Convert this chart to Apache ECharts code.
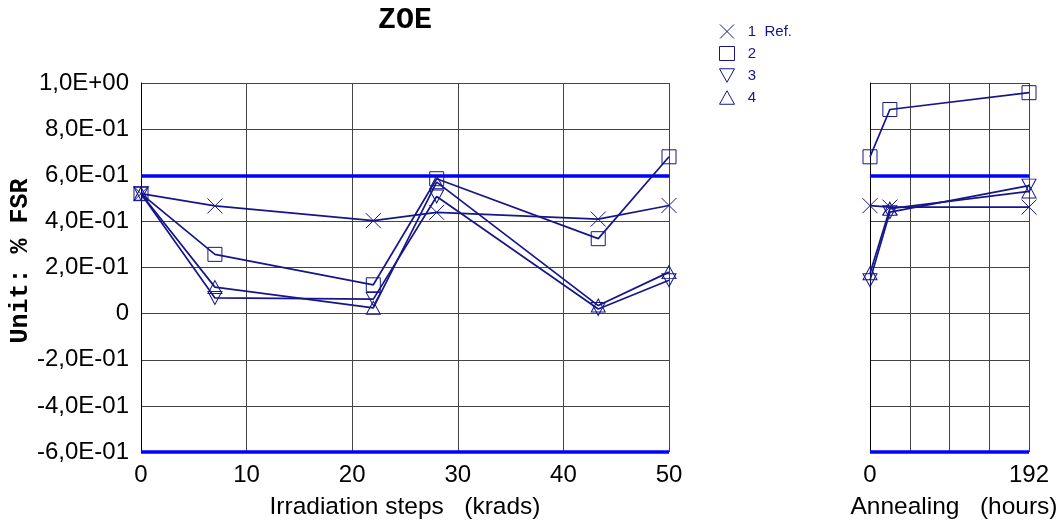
<!DOCTYPE html>
<html>
<head>
<meta charset="utf-8">
<script src="https://cdn.jsdelivr.net/npm/echarts@6/dist/echarts.min.js"></script>
<style>html,body{margin:0;padding:0;background:#fff;}#c{width:1061px;height:522px;}</style>
</head>
<body>
<div id="c"></div>
<script>
// ---- data ----
const irrX = [0, 7, 22, 28, 43.3, 50];          // krads
const annX = [0, 24, 192];                       // hours
const seriesNames = ['1  Ref.', '2', '3', '4'];
const irrY = [
  [0.52, 0.467, 0.403, 0.439, 0.41, 0.469],
  [0.52, 0.257, 0.125, 0.585, 0.325, 0.68],
  [0.52, 0.068, 0.063, 0.508, 0.02, 0.145],
  [0.52, 0.115, 0.025, 0.57, 0.035, 0.18]
];
const annY = [
  [0.468, 0.462, 0.462],
  [0.68, 0.885, 0.958],
  [0.145, 0.44, 0.555],
  [0.175, 0.455, 0.53]
];
const limits = [0.6, -0.6];
const yTicks = {min: -0.6, max: 1.0, step: 0.2};
const irrTicks = {min: 0, max: 50, step: 10};
const annTicks = {min: 0, max: 192, step: 48, shown: [0, 192]};

// ---- style ----
const navy = '#16168a';
const symbols = [
  'path://M0,0L10,10M10,0L0,10',
  'rect',
  'path://M0,0L10,0L5,9Z',
  'path://M5,0L10,9L0,9Z'
];
const symSizes = [15, 14, [14, 13], [14, 13]];

function fmtY(v) {
  v = Math.round(v * 1e8) / 1e8;
  if (v === 0) return '0';
  const e = Math.floor(Math.log10(Math.abs(v)) + 1e-9);
  const m = v / Math.pow(10, e);
  const ms = m.toFixed(1).replace('.', ',');
  const es = (e < 0 ? '-' : '+') + String(Math.abs(e)).padStart(2, '0');
  return ms + 'E' + es;
}

const gridLine = {show: true, lineStyle: {color: '#444', width: 1}};
const labelFont = {fontFamily: 'Liberation Sans', fontSize: 24, color: '#000'};
const nameFont = {fontFamily: 'Liberation Sans', fontSize: 24.5, color: '#000'};

const series = [];
for (let i = 0; i < 4; i++) {
  const common = {
    name: seriesNames[i],
    type: 'line',
    symbol: symbols[i],
    symbolSize: symSizes[i],
    showAllSymbol: true,
    lineStyle: {color: navy, width: 1.7},
    itemStyle: {color: 'rgba(0,0,0,0)', borderColor: navy, borderWidth: 1},
    emphasis: {disabled: true},
    animation: false,
    z: 5
  };
  series.push(Object.assign({}, common, {
    xAxisIndex: 0, yAxisIndex: 0,
    data: irrX.map((x, k) => [x, irrY[i][k]])
  }));
  series.push(Object.assign({}, common, {
    xAxisIndex: 1, yAxisIndex: 1,
    data: annX.map((x, k) => [x, annY[i][k]])
  }));
}
// limit lines
[0, 1].forEach(g => {
  series.push({
    type: 'line', xAxisIndex: g, yAxisIndex: g, data: [], silent: true, animation: false,
    markLine: {
      symbol: 'none', silent: true, label: {show: false}, animation: false,
      lineStyle: {color: '#0000ff', width: 3.5, type: 'solid'},
      data: limits.map(v => ({yAxis: v}))
    },
    z: 3
  });
});

const chart = echarts.init(document.getElementById('c'), null, {renderer: 'canvas'});
chart.setOption({
  backgroundColor: '#fff',
  animation: false,
  graphic: [
    {
      type: 'text', x: 405, y: 20,
      style: {text: 'ZOE', font: 'bold 30px "Liberation Mono"', fill: '#000', textAlign: 'center', textVerticalAlign: 'middle'}
    },
    {
      type: 'text', x: 21, y: 261, rotation: Math.PI / 2,
      style: {text: 'Unit: % FSR', font: 'bold 25px "Liberation Mono"', fill: '#000', textAlign: 'center', textVerticalAlign: 'middle'}
    }
  ],
  legend: {
    orient: 'vertical', left: 714, top: 19, itemGap: 7, itemWidth: 15, itemHeight: 14,
    textStyle: {color: navy, fontFamily: 'Liberation Sans', fontSize: 15},
    formatter: n => '  ' + n,
    data: seriesNames.map((n, i) => ({
      name: n, icon: symbols[i],
      itemStyle: {color: 'rgba(0,0,0,0)', borderColor: navy, borderWidth: 1}
    })),
    selectedMode: false
  },
  grid: [
    {left: 141, top: 83, width: 528, height: 369, containLabel: false, outerBoundsMode: 'none'},
    {left: 870, top: 83, width: 159, height: 369, containLabel: false, outerBoundsMode: 'none'}
  ],
  xAxis: [
    {
      type: 'value', gridIndex: 0, min: irrTicks.min, max: irrTicks.max, interval: irrTicks.step,
      axisLine: {show: false}, axisTick: {show: false}, splitLine: gridLine,
      axisLabel: Object.assign({margin: 11}, labelFont),
      name: 'Irradiation steps   (krads)', nameLocation: 'middle', nameGap: 43,
      nameTextStyle: nameFont
    },
    {
      type: 'value', gridIndex: 1, min: annTicks.min, max: annTicks.max, interval: annTicks.step,
      axisLine: {show: false}, axisTick: {show: false}, splitLine: gridLine,
      axisLabel: Object.assign({margin: 11, formatter: v => annTicks.shown.includes(v) ? String(v) : ''}, labelFont),
      name: 'Annealing   (hours)', nameLocation: 'middle', nameGap: 43,
      nameTextStyle: Object.assign({padding: [0, 0, 0, 9]}, nameFont)
    }
  ],
  yAxis: [
    {
      type: 'value', gridIndex: 0, min: yTicks.min, max: yTicks.max, interval: yTicks.step,
      axisLine: {show: true, lineStyle: {color: '#000', width: 1}}, axisTick: {show: false},
      splitLine: gridLine,
      axisLabel: Object.assign({margin: 12, formatter: fmtY}, labelFont)
    },
    {
      type: 'value', gridIndex: 1, min: yTicks.min, max: yTicks.max, interval: yTicks.step,
      axisLine: {show: true, lineStyle: {color: '#000', width: 1}}, axisTick: {show: false},
      splitLine: gridLine, axisLabel: {show: false}
    }
  ],
  series: series
});
</script>
</body>
</html>
